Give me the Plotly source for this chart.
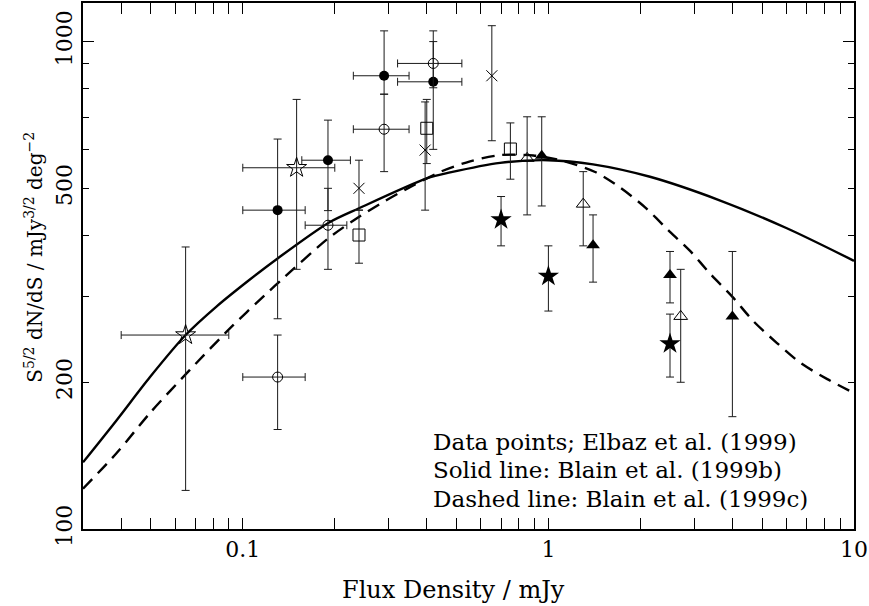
import numpy as np
import plotly.graph_objects as go

# ---------------- model curves ----------------
solid_x = [0.030, 0.0386, 0.0497, 0.065, 0.082, 0.1055, 0.130, 0.191, 0.240, 0.400,
           0.477, 0.695, 1.00, 1.40, 2.15, 3.65, 6.03, 10.0]
solid_y = [137, 167, 205, 250, 286, 325, 359, 425, 455, 524,
           539, 564, 571, 560, 528, 472, 414, 355]

dashed_x = [0.030, 0.0386, 0.0497, 0.0671, 0.093, 0.1169, 0.1356, 0.1907, 0.239, 0.2922,
            0.3573, 0.4446, 0.5544, 0.695, 0.893, 1.12, 1.422, 1.716, 2.072, 2.451,
            2.908, 3.398, 4.01, 4.684, 5.586, 6.694, 8.178, 10.0]
dashed_y = [121, 143, 173, 212, 262, 300, 327, 395, 436, 471,
            505, 541, 568, 585, 584, 569, 540, 502, 457, 412,
            372, 333, 299, 267, 241, 219, 203, 190]

# ---------------- data points: Elbaz et al. (1999) ----------------
# open stars (with x error bars)
ostar_x = [0.065, 0.150]
ostar_y = [250, 551]
ostar_ylo = [120, 341]
ostar_yhi = [379, 761]
ostar_xlo = [0.040, 0.100]
ostar_xhi = [0.090, 0.200]

# filled circles (with x error bars)
fcirc_x = [0.130, 0.190, 0.290, 0.420]
fcirc_y = [451, 571, 851, 827]
fcirc_ylo = [270, 450, 780, 601]
fcirc_yhi = [631, 690, 1052, 1000]
fcirc_xlo = [0.100, 0.156, 0.230, 0.321]
fcirc_xhi = [0.160, 0.225, 0.350, 0.521]

# open circles (with x error bars)
ocirc_x = [0.130, 0.190, 0.290, 0.420]
ocirc_y = [205, 420, 661, 902]
ocirc_ylo = [160, 341, 541, 804]
ocirc_yhi = [250, 500, 780, 1052]
ocirc_xlo = [0.100, 0.160, 0.230, 0.321]
ocirc_xhi = [0.160, 0.219, 0.350, 0.521]

# crosses
cross_x = [0.240, 0.395, 0.653]
cross_y = [500, 599, 851]
cross_ylo = [451, 451, 626]
cross_yhi = [571, 752, 1078]

# open squares
osq_x = [0.240, 0.400, 0.751]
osq_y = [401, 664, 602]
osq_ylo = [351, 562, 522]
osq_yhi = [451, 761, 681]

# open triangles
otri_x = [0.852, 1.30, 2.71]
otri_y = [576, 464, 273]
otri_ylo = [441, 381, 200]
otri_yhi = [701, 541, 341]

# filled triangles
ftri_x = [0.951, 1.40, 2.50, 4.00]
ftri_y = [583, 382, 332, 273]
ftri_ylo = [460, 321, 291, 170]
ftri_yhi = [701, 441, 371, 371]

# filled stars
fstar_x = [0.700, 1.00, 2.50]
fstar_y = [431, 330, 240]
fstar_ylo = [381, 280, 205]
fstar_yhi = [481, 381, 276]

# ---------------- axis ticks ----------------
x_major = [0.1, 1, 10]
x_major_text = ["0.1", "1", "10"]
x_minor = [0.04, 0.05, 0.06, 0.07, 0.08, 0.09,
           0.2, 0.3, 0.4, 0.5, 0.6, 0.7, 0.8, 0.9,
           2, 3, 4, 5, 6, 7, 8, 9]
y_major = [100, 200, 500, 1000]
y_major_text = ["100", "200", "500", "1000"]
y_minor = [300, 400, 600, 700, 800, 900]
y_decades = [100, 1000]

x_title = "Flux Density / mJy"
y_title = "S<sup>5/2</sup> dN/dS / mJy<sup>3/2</sup> deg<sup>−2</sup>"
legend_lines = ["Data points; Elbaz et al. (1999)",
                "Solid line: Blain et al. (1999b)",
                "Dashed line: Blain et al. (1999c)"]

FONT = "DejaVu Serif"
FS = 23
ERRC = "#1a1a1a"

fig = go.Figure()

fig.add_trace(go.Scatter(x=solid_x, y=solid_y, mode="lines",
                         line=dict(color="black", width=2.4, shape="spline", smoothing=0.8),
                         hoverinfo="skip"))
fig.add_trace(go.Scatter(x=dashed_x, y=dashed_y, mode="lines",
                         line=dict(color="black", width=2.4, dash="13px,8px",
                                   shape="spline", smoothing=0.8),
                         hoverinfo="skip"))


def add_points(x, y, ylo, yhi, symbol, size, xlo=None, xhi=None, lw=1.0, fill="black"):
    ey = dict(type="data", symmetric=False,
              array=[h - v for h, v in zip(yhi, y)],
              arrayminus=[v - l for v, l in zip(y, ylo)],
              thickness=1, width=4, color=ERRC)
    kw = {}
    if xlo is not None:
        kw["error_x"] = dict(type="data", symmetric=False,
                             array=[h - v for h, v in zip(xhi, x)],
                             arrayminus=[v - l for v, l in zip(x, xlo)],
                             thickness=1, width=4, color=ERRC)
    fig.add_trace(go.Scatter(x=x, y=y, mode="markers", error_y=ey,
                             marker=dict(symbol=symbol, size=size, color=fill,
                                         line=dict(color="black", width=lw)),
                             hoverinfo="skip", **kw))


add_points(ostar_x, ostar_y, ostar_ylo, ostar_yhi, "star-open", 15, ostar_xlo, ostar_xhi)
add_points(fcirc_x, fcirc_y, fcirc_ylo, fcirc_yhi, "circle", 10, fcirc_xlo, fcirc_xhi, lw=0)
add_points(ocirc_x, ocirc_y, ocirc_ylo, ocirc_yhi, "circle-open", 10, ocirc_xlo, ocirc_xhi)
add_points(cross_x, cross_y, cross_ylo, cross_yhi, "x-thin-open", 11)
add_points(osq_x, osq_y, osq_ylo, osq_yhi, "square-open", 12)
add_points(otri_x, otri_y, otri_ylo, otri_yhi, "triangle-up-open", 12)
add_points(ftri_x, ftri_y, ftri_ylo, ftri_yhi, "triangle-up", 12, lw=0)
add_points(fstar_x, fstar_y, fstar_ylo, fstar_yhi, "star", 16, lw=0)

# empty trace so the overlaying axis (long decade ticks) is drawn
fig.add_trace(go.Scatter(x=[], y=[], yaxis="y2", hoverinfo="skip"))

yr = [2, np.log10(1200)]

fig.update_layout(
    width=869, height=606,
    margin=dict(l=83, r=15, t=3, b=77),
    paper_bgcolor="white", plot_bgcolor="white",
    showlegend=False,
    font=dict(family=FONT, size=FS, color="black"),
    xaxis=dict(type="log", range=[np.log10(0.03), 1],
               tickmode="array", tickvals=x_major, ticktext=x_major_text,
               ticks="inside", ticklen=11, tickwidth=1, tickcolor="black",
               showline=True, linecolor="black", linewidth=1.5, mirror="allticks",
               showgrid=False, zeroline=False, automargin=False,
               minor=dict(ticks="inside", ticklen=6, tickwidth=1, tickcolor="black",
                          tickmode="array", tickvals=x_minor, showgrid=False),
               tickfont=dict(size=FS - 1)),
    yaxis=dict(type="log", range=yr,
               tickmode="array", tickvals=y_major, ticktext=y_major_text,
               ticks="inside", ticklen=6, tickwidth=1, tickcolor="black",
               tickangle=-90,
               showline=True, linecolor="black", linewidth=1.5, mirror="allticks",
               showgrid=False, zeroline=False, automargin=False,
               minor=dict(ticks="inside", ticklen=6, tickwidth=1, tickcolor="black",
                          tickmode="array", tickvals=y_minor, showgrid=False),
               tickfont=dict(size=FS - 1)),
    yaxis2=dict(type="log", range=yr, overlaying="y", side="left", anchor="x",
                tickmode="array", tickvals=y_decades,
                ticks="inside", ticklen=11, tickwidth=1, tickcolor="black",
                showticklabels=False, showline=False, mirror="ticks",
                showgrid=False, zeroline=False),
)

# axis titles
fig.add_annotation(text=x_title, xref="paper", yref="paper", x=0.481, y=-0.116,
                   xanchor="center", yanchor="middle", showarrow=False, borderpad=0,
                   font=dict(family=FONT, size=24, color="black"))
fig.add_annotation(text=y_title, xref="paper", yref="paper", x=-0.064, y=0.517,
                   xanchor="center", yanchor="middle", showarrow=False, textangle=-90,
                   font=dict(family=FONT, size=20, color="black"))

for i, txt in enumerate(legend_lines):
    fig.add_annotation(text=txt, xref="paper", yref="paper",
                       x=0.451, y=0.166 - i * 0.0545,
                       xanchor="left", yanchor="middle", showarrow=False,
                       font=dict(family=FONT, size=FS, color="black"))

fig.write_html("out.html", config={"displayModeBar": False},
               post_script="document.body.style.margin='0';document.body.style.padding='0';")
